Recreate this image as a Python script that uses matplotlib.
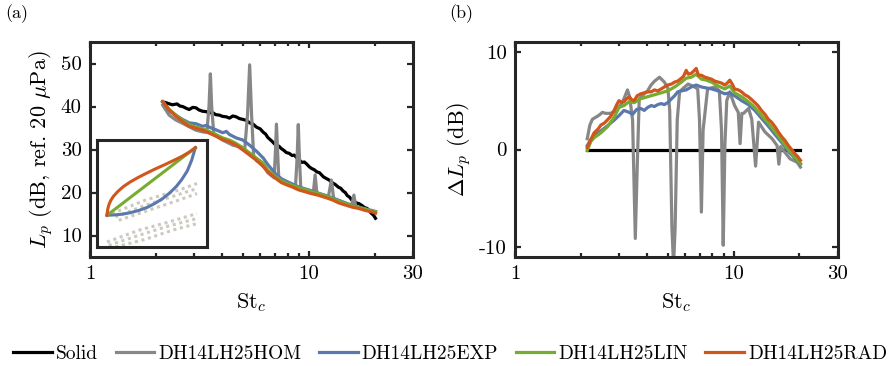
import numpy as np
import matplotlib
matplotlib.use("Agg")
import matplotlib.pyplot as plt
from matplotlib.ticker import FixedLocator, NullFormatter

plt.rcParams['font.family'] = 'serif'
plt.rcParams['font.serif'] = ['cmr10', 'DejaVu Serif']
plt.rcParams['mathtext.fontset'] = 'cm'
plt.rcParams['axes.unicode_minus'] = False
plt.rcParams['axes.formatter.use_mathtext'] = True

# ---- panel (a): Lp spectra ----
st_solid = [2.15, 2.25, 2.38, 2.5, 2.58, 2.65, 2.75, 2.84, 2.95, 3.05, 3.15, 3.27, 3.4, 3.51, 3.63,
            3.76, 3.9, 4.04, 4.2, 4.34, 4.5, 4.66, 4.82, 5.0, 5.18, 5.37, 5.57, 5.77, 6.0, 6.2, 6.35,
            6.5, 6.8, 7.1, 7.3, 7.5, 7.7, 7.9, 8.15, 8.4, 8.6, 8.8, 9.05, 9.3, 9.55, 9.8, 10.05, 10.3,
            10.6, 10.9, 11.2, 11.4, 11.7, 12.0, 12.4, 12.8, 13.2, 13.7, 14.0, 14.4, 14.7, 15.0, 15.4,
            15.7, 16.1, 16.5, 17.0, 17.5, 18.0, 18.5, 18.9, 19.3, 19.8, 20.2]
lp_solid = [41.1, 40.8, 40.4, 40.6, 40.1, 40.0, 39.6, 39.3, 39.8, 39.7, 39.2, 38.9, 38.8, 38.5, 38.6,
            38.1, 38.0, 37.7, 37.6, 37.3, 37.8, 37.6, 37.2, 37.0, 36.8, 36.2, 35.9, 35.2, 34.8, 34.0, 33.6,
            32.8, 31.9, 30.9, 30.8, 30.2, 29.8, 29.3, 29.1, 28.6, 28.7, 28.1, 27.6, 27.0, 27.1, 26.6, 26.0,
            25.6, 25.3, 24.8, 24.6, 24.2, 23.6, 23.3, 22.9, 22.3, 21.9, 21.2, 21.0, 20.3, 20.0, 19.3, 18.9,
            18.3, 18.0, 17.6, 17.4, 17.0, 16.5, 16.3, 15.8, 15.2, 14.7, 14.0]

st_hom = [2.15, 2.3, 2.46, 2.65, 2.84, 3.05, 3.27, 3.42, 3.5, 3.55, 3.6, 3.68, 4.04, 4.5, 4.88,
          5.1, 5.25, 5.37, 5.48, 5.6, 5.77, 6.2, 6.5, 6.95, 7.05, 7.12, 7.2, 7.3, 8.0, 8.7, 8.85,
          8.96, 9.07, 9.2, 10.0, 10.5, 10.7, 10.9, 12.3, 12.7, 13.0, 14.5, 15.7, 16.1, 16.4, 18.0, 20.2]
lp_hom = [40.3, 38.0, 36.9, 36.1, 35.3, 34.5, 34.1, 34.0, 40.0, 47.6, 40.0, 33.6, 32.2, 31.0, 30.6,
          30.2, 38.0, 49.7, 38.0, 28.5, 27.4, 26.4, 24.6, 23.4, 30.0, 35.9, 30.0, 23.0, 21.9, 21.4, 28.0,
          35.8, 28.0, 20.9, 20.3, 20.0, 24.1, 19.7, 19.0, 22.9, 18.6, 17.6, 17.0, 19.4, 16.7, 16.1, 15.4]

st_exp = [2.15, 2.3, 2.46, 2.65, 2.84, 3.05, 3.27, 3.4, 3.51, 3.76, 4.04, 4.2, 4.34, 4.66, 5.0,
          5.37, 5.77, 6.2, 6.5, 7.1, 7.5, 8.0, 9.0, 10.0, 11.0, 12.0, 13.7, 15.8, 18.2, 20.2]
lp_exp = [41.1, 39.0, 38.0, 37.0, 36.2, 36.0, 35.4, 35.6, 35.2, 34.6, 33.9, 34.2, 33.5, 32.7, 32.2,
          31.0, 29.6, 28.0, 26.5, 24.2, 23.2, 22.5, 21.3, 20.6, 19.9, 19.3, 18.2, 17.0, 16.2, 15.6]

st_lin = [2.15, 2.3, 2.46, 2.65, 2.84, 3.05, 3.27, 3.51, 3.76, 4.04, 4.34, 4.66, 5.0, 5.37, 5.77,
          6.2, 6.5, 7.1, 7.5, 8.0, 9.0, 10.0, 11.0, 12.0, 13.7, 15.8, 18.2, 20.2]
lp_lin = [41.1, 39.3, 38.1, 36.8, 35.8, 35.2, 34.8, 34.2, 33.5, 32.7, 32.2, 31.4, 30.4, 29.2, 28.0,
          26.8, 25.2, 23.6, 22.7, 22.1, 21.1, 20.4, 19.8, 19.2, 18.0, 16.9, 16.1, 15.5]

st_rad = [2.15, 2.3, 2.46, 2.65, 2.84, 3.05, 3.27, 3.51, 3.76, 4.04, 4.34, 4.66, 5.0, 5.37, 5.77,
          6.2, 6.5, 7.1, 7.5, 8.0, 8.4, 9.0, 9.6, 10.2, 11.0, 12.0, 12.8, 13.7, 14.7, 15.8, 16.9,
          18.2, 19.5, 20.2]
lp_rad = [41.1, 39.3, 37.8, 36.5, 35.4, 34.9, 34.5, 33.8, 33.1, 32.3, 31.8, 31.0, 29.9, 28.7, 27.5,
          26.0, 24.8, 23.2, 22.3, 21.7, 21.3, 20.6, 20.2, 19.8, 19.4, 18.8, 18.3, 17.6, 17.1, 16.6, 16.3,
          15.8, 15.5, 15.2]

# ---- panel (b): delta Lp ----
dst_solid = [2.14, 20.2]
dlp_solid = [0.0, 0.0]

dst_hom = [2.14, 2.2, 2.26, 2.34, 2.42, 2.51, 2.6, 2.74, 2.84, 2.94, 3.05, 3.15, 3.27, 3.35, 3.45,
           3.55, 3.62, 3.70, 3.9, 4.04, 4.19, 4.35, 4.58, 4.82, 5.0, 5.1, 5.22, 5.31, 5.4, 5.52,
           5.66, 5.9, 6.19, 6.5, 6.85, 6.98, 7.12, 7.25, 7.6, 8.2, 8.6, 8.8, 8.96, 9.12, 9.3, 9.6,
           10.1, 10.5, 10.7, 10.9, 11.1, 11.7, 12.1, 12.6, 13.0, 13.9, 15.0, 15.8, 16.1, 16.4,
           16.9, 18.1, 19.5, 20.2]
dlp_hom = [1.1, 2.5, 3.1, 3.3, 3.5, 3.8, 3.7, 3.7, 3.9, 4.2, 4.6, 5.2, 6.1, 5.3, 3.0,
           -9.1, -2.0, 5.2, 5.7, 6.0, 6.6, 7.0, 7.4, 6.9, 6.3, 4.0, -8.0, -11.8, -8.0, 3.0,
           5.9, 6.3, 6.7, 6.5, 6.2, 3.0, -6.4, 2.0, 6.2, 6.4, 6.0, 2.0, -9.8, 0.5, 5.0, 5.9,
           4.5, 3.8, 0.6, 3.7, 3.7, 4.2, 3.1, -1.7, 2.8, 1.8, 1.1, 0.4, -1.5, 0.3,
           -0.1, -0.95, -1.3, -1.8]

dst_exp = [2.14, 2.22, 2.30, 2.47, 2.64, 2.84, 3.0, 3.15, 3.33, 3.45, 3.6, 3.76, 3.9, 4.04, 4.2,
           4.34, 4.5, 4.66, 4.82, 5.0, 5.2, 5.37, 5.55, 5.77, 6.07, 6.4, 6.74, 7.12, 7.5, 7.92,
           8.5, 9.11, 9.6, 10.1, 10.87, 11.67, 12.5, 13.4, 14.4, 15.5, 16.6, 17.8, 19.1, 20.2]
dlp_exp = [0.4, 1.0, 1.4, 1.9, 2.4, 3.0, 3.5, 4.0, 3.8, 3.6, 4.1, 4.2, 4.0, 4.3, 4.5,
           4.4, 4.6, 4.7, 4.6, 4.8, 5.2, 5.5, 5.9, 6.0, 6.1, 6.4, 6.6, 6.4, 6.3, 6.2,
           6.0, 5.7, 5.8, 5.5, 5.0, 4.6, 4.0, 3.2, 2.4, 1.5, 0.7, -0.2, -0.9, -1.5]

dst_lin = [2.14, 2.22, 2.30, 2.47, 2.64, 2.84, 2.99, 3.15, 3.33, 3.51, 3.76, 4.04, 4.34, 4.66, 5.0,
           5.37, 5.77, 6.07, 6.4, 6.74, 7.12, 7.5, 7.92, 8.5, 9.11, 9.6, 10.1, 10.87, 11.67, 12.5,
           13.4, 14.4, 15.5, 16.6, 17.8, 19.1, 20.2]
dlp_lin = [-0.1, 0.8, 1.2, 1.7, 2.3, 3.3, 4.3, 4.5, 4.9, 4.8, 5.2, 5.4, 5.6, 5.8, 6.0,
           6.4, 6.9, 7.3, 7.4, 7.7, 7.2, 7.1, 6.9, 6.5, 6.2, 6.5, 5.8, 5.4, 4.9, 4.3,
           3.5, 2.7, 1.8, 0.9, 0.0, -0.8, -1.4]

dst_rad = [2.14, 2.22, 2.30, 2.40, 2.47, 2.56, 2.64, 2.74, 2.84, 2.92, 2.99, 3.07, 3.15, 3.24, 3.33,
           3.42, 3.51, 3.62, 3.76, 3.9, 4.04, 4.2, 4.34, 4.5, 4.66, 4.82, 5.0, 5.2, 5.37, 5.55,
           5.77, 5.9, 6.07, 6.2, 6.4, 6.55, 6.74, 6.9, 7.12, 7.39, 7.65, 7.92, 8.2, 8.5, 8.8,
           9.11, 9.35, 9.6, 9.85, 10.1, 10.5, 10.87, 11.25, 11.67, 12.1, 12.5, 12.9, 13.4, 13.9,
           14.4, 14.9, 15.5, 16.0, 16.6, 17.2, 17.8, 18.4, 19.1, 19.6, 20.2]
dlp_rad = [0.2, 1.0, 1.7, 2.1, 2.5, 2.7, 3.0, 3.4, 4.0, 4.6, 5.0, 4.8, 4.9, 5.2, 5.4,
           5.1, 5.0, 5.5, 5.7, 5.8, 5.9, 5.9, 6.1, 6.0, 6.2, 6.4, 6.6, 6.7, 6.9, 7.0,
           7.3, 7.5, 8.1, 7.7, 7.8, 8.0, 8.3, 7.6, 7.6, 7.4, 7.3, 7.2, 7.0, 6.9, 6.8,
           6.6, 6.8, 7.1, 6.7, 6.2, 6.1, 5.9, 5.6, 5.4, 5.1, 4.8, 4.5, 4.0, 3.6,
           3.1, 2.8, 2.3, 1.8, 1.3, 0.9, 0.4, 0.0, -0.45, -0.7, -1.1]

labels = ['Solid', 'DH14LH25HOM', 'DH14LH25EXP', 'DH14LH25LIN', 'DH14LH25RAD']
colors = ['#000000', '#878787', '#5b78ad', '#77ac30', '#d0561c']

# ---- inset: geometry sketch (normalised coords) ----
ins_rad_u = [0.091, 0.094, 0.100, 0.110, 0.125, 0.150, 0.190, 0.240, 0.300, 0.370, 0.450, 0.530,
             0.610, 0.690, 0.770, 0.840, 0.894]
ins_rad_v = [0.297, 0.330, 0.365, 0.400, 0.435, 0.475, 0.520, 0.565, 0.607, 0.648, 0.690, 0.730,
             0.767, 0.806, 0.846, 0.888, 0.928]
ins_lin_u = [0.091, 0.894]
ins_lin_v = [0.297, 0.928]
ins_exp_u = [0.091, 0.160, 0.230, 0.300, 0.380, 0.460, 0.530, 0.600, 0.660, 0.720, 0.770, 0.820,
             0.860, 0.894]
ins_exp_v = [0.297, 0.300, 0.307, 0.320, 0.342, 0.372, 0.410, 0.455, 0.505, 0.565, 0.630, 0.710,
             0.810, 0.928]
ins_dot_u = [[0.136, 0.439, 0.742, 0.909], [0.167, 0.439, 0.742, 0.909], [0.197, 0.470, 0.742, 0.909],
             [0.091, 0.379, 0.652, 0.909], [0.106, 0.379, 0.652, 0.909], [0.167, 0.439, 0.682, 0.909]]
ins_dot_v = [[0.313, 0.438, 0.531, 0.594], [0.281, 0.391, 0.491, 0.547], [0.250, 0.344, 0.438, 0.500],
             [0.047, 0.156, 0.234, 0.313], [0.016, 0.109, 0.197, 0.266], [0.0, 0.072, 0.156, 0.219]]

fig = plt.figure(figsize=(8.95, 3.66), dpi=100)
ax1 = fig.add_axes([0.1006, 0.2978, 0.3609, 0.5874])
ax2 = fig.add_axes([0.5754, 0.2978, 0.3609, 0.5874])

lw = 2.3
sets_a = [(st_solid, lp_solid), (st_hom, lp_hom), (st_exp, lp_exp), (st_lin, lp_lin), (st_rad, lp_rad)]
sets_b = [(dst_solid, dlp_solid), (dst_hom, dlp_hom), (dst_exp, dlp_exp), (dst_lin, dlp_lin), (dst_rad, dlp_rad)]
handles = []
for (x, y), c, lab in zip(sets_a, colors, labels):
    h, = ax1.plot(x, y, color=c, lw=lw, label=lab, solid_joinstyle='round')
    handles.append(h)
for (x, y), c in zip(sets_b, colors):
    ax2.plot(x, y, color=c, lw=lw, solid_joinstyle='round')

for ax in (ax1, ax2):
    ax.set_xscale('log')
    ax.set_xlim(1, 30)
    ax.xaxis.set_major_locator(FixedLocator([1, 10, 30]))
    ax.set_xticklabels(['1', '10', '30'])
    ax.xaxis.set_minor_locator(FixedLocator([2, 3, 4, 5, 6, 7, 8, 9, 20]))
    ax.xaxis.set_minor_formatter(NullFormatter())
    ax.tick_params(which='both', direction='in', top=True, right=True, labelsize=15,
                   color='#262626', width=1.6, pad=6)
    ax.tick_params(which='major', length=4)
    ax.tick_params(which='minor', length=3)
    for s in ax.spines.values():
        s.set_linewidth(2.2)
        s.set_color('#262626')
    ax.set_xlabel(r'$\mathrm{St}_c$', fontsize=16, labelpad=6)

ax1.set_ylim(5, 55)
ax1.set_yticks([10, 20, 30, 40, 50])
ax1.set_yticklabels(['10', '20', '30', '40', '50'])
ax1.set_ylabel(r'$L_p$ (dB, ref. 20 $\mu$Pa)', fontsize=16, labelpad=4)

ax2.set_ylim(-11, 11)
ax2.set_yticks([-10, 0, 10])
ax2.set_yticklabels(['-10', '0', '10'])
ax2.set_ylabel(r'$\Delta L_p$ (dB)', fontsize=16, labelpad=4)

axi = fig.add_axes([0.1084, 0.3251, 0.1229, 0.2923])
for u, v in zip(ins_dot_u, ins_dot_v):
    axi.plot(u, v, color='#cdc9c1', lw=2.2, ls=(0, (1, 1.2)))
axi.plot(ins_exp_u, ins_exp_v, color=colors[2], lw=2.2)
axi.plot(ins_lin_u, ins_lin_v, color=colors[3], lw=2.2)
axi.plot(ins_rad_u, ins_rad_v, color=colors[4], lw=2.2)
axi.set_xlim(0, 1)
axi.set_ylim(0, 1)
axi.set_xticks([])
axi.set_yticks([])
for s in axi.spines.values():
    s.set_linewidth(2.2)
    s.set_color('#262626')

fig.text(0.019, 0.962, '(a)', fontsize=13, ha='center', va='center')
fig.text(0.515, 0.962, '(b)', fontsize=13, ha='center', va='center')

fig.legend(handles, labels, loc='center', bbox_to_anchor=(0.503, 0.033), ncol=5, frameon=False,
           fontsize=14, handlelength=2.0, handletextpad=0.2, columnspacing=0.9, borderaxespad=0)

fig.savefig('out.png', dpi=100)
